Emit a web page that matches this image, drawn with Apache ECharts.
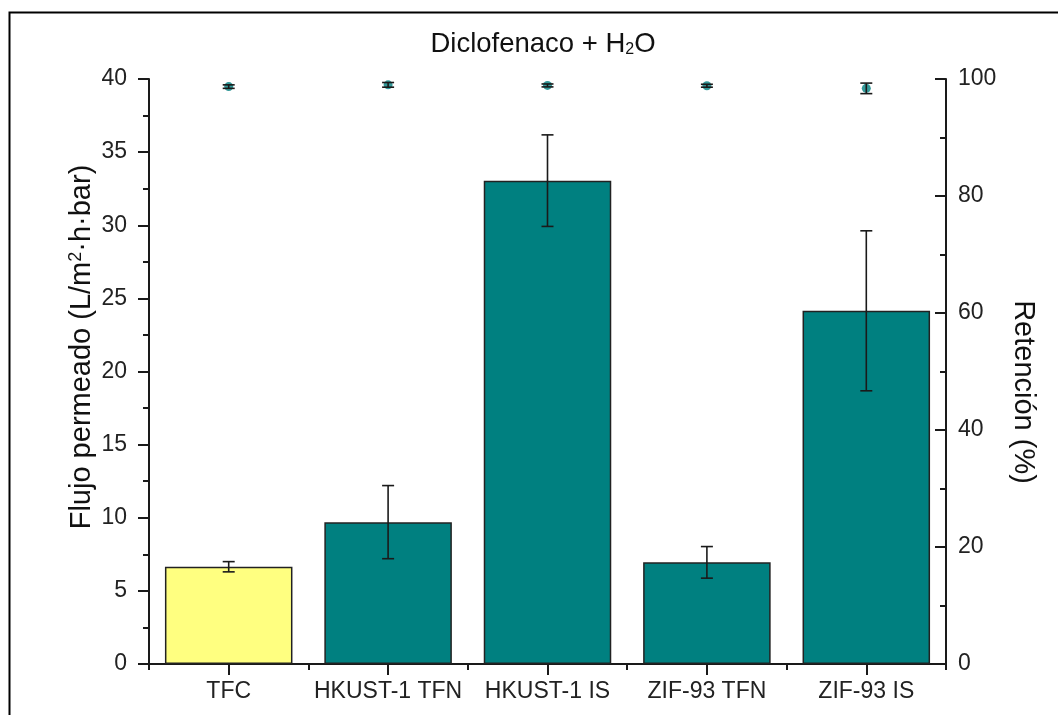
<!DOCTYPE html>
<html>
<head>
<meta charset="utf-8">
<script src="https://cdn.jsdelivr.net/npm/echarts@6/dist/echarts.min.js"></script>
<style>
  html, body { margin: 0; padding: 0; background: #fff; }
  #chart { width: 1058px; height: 715px; }
</style>
</head>
<body>
<div id="chart"></div>
<script>
// Membranes tested with diclofenac solution
const categories = ['TFC', 'HKUST-1 TFN', 'HKUST-1 IS', 'ZIF-93 TFN', 'ZIF-93 IS'];
// Permeate flux, L/(m2·h·bar), with standard deviation
const flux = [6.65, 9.7, 33.05, 6.95, 24.15];
const fluxErr = [0.35, 2.5, 3.13, 1.08, 5.47];
// Retention, %, with standard deviation
const retention = [98.7, 99.0, 98.9, 98.85, 98.4];
const retentionErr = [0.3, 0.4, 0.25, 0.25, 0.9];
// Axis ticks
const fluxTicks = [0, 40, 5];
const retentionTicks = [0, 100, 20];

const TEAL = '#008080';
const YELLOW = '#FFFF80';
const INK = '#1a1a1a';
const FONT = 'Liberation Sans, Arial, sans-serif';

function errorData(values, errs) {
  return values.map((v, i) => [i, v - errs[i], v + errs[i]]);
}

function errorBar(capHalf) {
  return function (params, api) {
    const i = api.value(0);
    const lo = api.coord([i, api.value(1)]);
    const hi = api.coord([i, api.value(2)]);
    const style = { stroke: INK, lineWidth: 1.6 };
    return {
      type: 'group',
      children: [
        { type: 'line', shape: { x1: hi[0], y1: hi[1], x2: lo[0], y2: lo[1] }, style },
        { type: 'line', shape: { x1: hi[0] - capHalf, y1: hi[1], x2: hi[0] + capHalf, y2: hi[1] }, style },
        { type: 'line', shape: { x1: lo[0] - capHalf, y1: lo[1], x2: lo[0] + capHalf, y2: lo[1] }, style }
      ]
    };
  };
}

const chart = echarts.init(document.getElementById('chart'), null, { renderer: 'canvas' });

const axisLine = { show: true, lineStyle: { color: INK, width: 2 } };

chart.setOption({
  backgroundColor: '#fff',
  animation: false,
  textStyle: { fontFamily: FONT },
  grid: { left: 149, right: 112, top: 79, bottom: 51, containLabel: false },
  xAxis: [
    {
      type: 'category',
      data: categories,
      position: 'bottom',
      axisLine: axisLine,
      axisTick: { show: true, alignWithLabel: true, length: 11, lineStyle: { color: INK, width: 2 } },
      axisLabel: { interval: 0, fontSize: 23, color: '#222', margin: 16, fontFamily: FONT },
      splitLine: { show: false }
    },
    {
      type: 'category',
      data: categories,
      position: 'bottom',
      axisLine: { show: false },
      axisTick: { show: true, interval: 0, alignWithLabel: false, length: 6, lineStyle: { color: INK, width: 2 } },
      axisLabel: { show: false },
      splitLine: { show: false }
    }
  ],
  yAxis: [
    {
      type: 'value',
      position: 'left',
      min: fluxTicks[0], max: fluxTicks[1], interval: fluxTicks[2],
      axisLine: axisLine,
      axisTick: { show: true, inside: false, length: 11, lineStyle: { color: INK, width: 2 } },
      minorTick: { show: true, splitNumber: 2, length: 6, lineStyle: { color: INK, width: 2 } },
      axisLabel: { fontSize: 23, color: '#222', margin: 22, fontFamily: FONT },
      splitLine: { show: false }
    },
    {
      type: 'value',
      position: 'right',
      min: retentionTicks[0], max: retentionTicks[1], interval: retentionTicks[2],
      axisLine: axisLine,
      axisTick: { show: true, inside: true, length: 11, lineStyle: { color: INK, width: 2 } },
      minorTick: { show: true, splitNumber: 2, length: 6, lineStyle: { color: INK, width: 2 } },
      axisLabel: { fontSize: 23, color: '#222', margin: 12, fontFamily: FONT },
      splitLine: { show: false }
    }
  ],
  series: [
    {
      type: 'bar',
      xAxisIndex: 0,
      yAxisIndex: 0,
      barWidth: '80%',
      data: flux.map((v, i) => ({
        value: v,
        itemStyle: { color: i === 0 ? YELLOW : TEAL }
      })),
      itemStyle: { borderColor: '#222', borderWidth: 1.5 },
      z: 2
    },
    {
      type: 'custom',
      xAxisIndex: 0,
      yAxisIndex: 0,
      renderItem: errorBar(6),
      encode: { x: 0, y: [1, 2] },
      data: errorData(flux, fluxErr),
      z: 3
    },
    {
      type: 'scatter',
      xAxisIndex: 0,
      yAxisIndex: 1,
      symbol: 'circle',
      symbolSize: 9,
      itemStyle: { color: TEAL },
      data: retention,
      z: 4
    },
    {
      type: 'custom',
      xAxisIndex: 0,
      yAxisIndex: 1,
      renderItem: errorBar(6),
      encode: { x: 0, y: [1, 2] },
      data: errorData(retention, retentionErr),
      z: 5
    }
  ],
  graphic: [
    {
      type: 'polyline',
      shape: { points: [[9.5, 720], [9.5, 12.5], [1060, 12.5]] },
      style: { stroke: '#000', lineWidth: 2, fill: null },
      silent: true
    },
    {
      type: 'text',
      x: 543, y: 44,
      style: {
        text: 'Diclofenaco + H{sub|2}O',
        fontFamily: FONT, fontSize: 27.5, fill: '#111',
        textAlign: 'center', textVerticalAlign: 'middle',
        rich: {
          sub: { fontSize: 16, fontFamily: FONT, fill: '#111', verticalAlign: 'bottom', lineHeight: 10 }
        }
      }
    },
    {
      type: 'text',
      x: 82, y: 347,
      rotation: Math.PI / 2,
      style: {
        text: 'Flujo permeado (L/m{sup|2}·h·bar)',
        fontFamily: FONT, fontSize: 29, fill: '#111',
        textAlign: 'center', textVerticalAlign: 'middle',
        rich: {
          sup: { fontSize: 18, fontFamily: FONT, fill: '#111', verticalAlign: 'top', lineHeight: 16 }
        }
      }
    },
    {
      type: 'text',
      x: 1023, y: 392,
      rotation: -Math.PI / 2,
      style: {
        text: 'Retención (%)',
        fontFamily: FONT, fontSize: 29, fill: '#111',
        textAlign: 'center', textVerticalAlign: 'middle'
      }
    }
  ]
});
</script>
</body>
</html>
